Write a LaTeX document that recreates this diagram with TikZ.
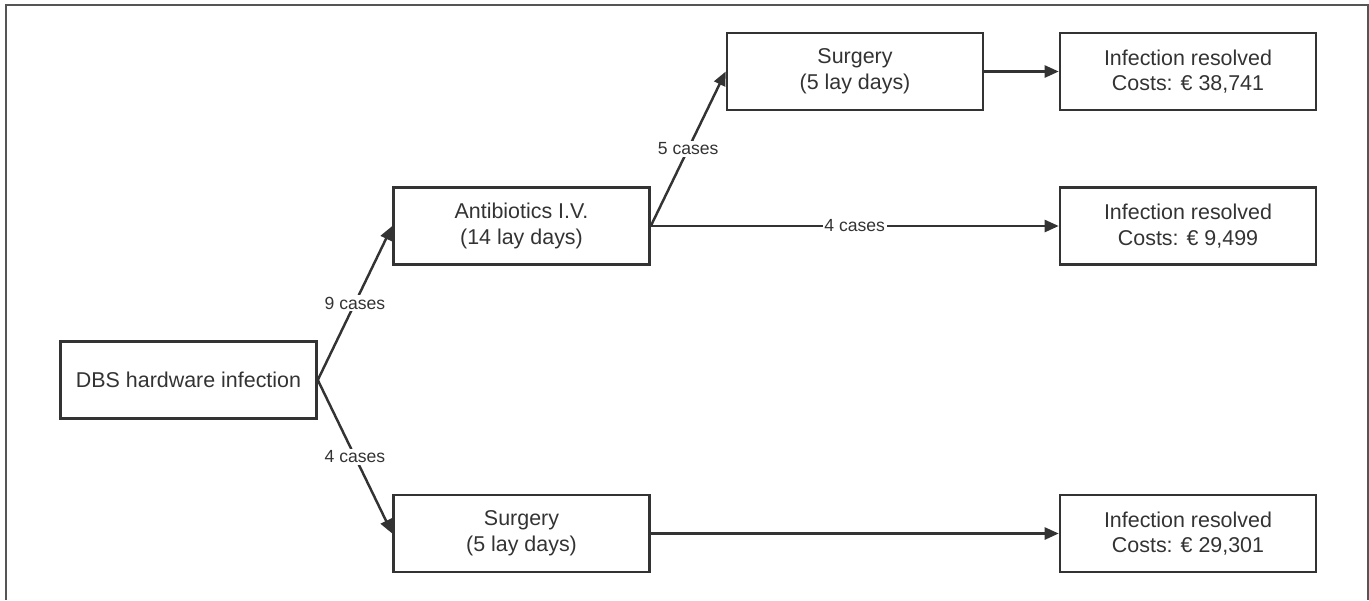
\documentclass[tikz,border=0pt]{standalone}
\usepackage{fontspec}
\setmainfont{Liberation Sans}
\usetikzlibrary{arrows.meta}
\definecolor{inkgray}{HTML}{333333}
\definecolor{framegray}{HTML}{555555}
\begin{document}
\begin{tikzpicture}[x=0.02cm,y=-0.02cm,
    box/.style={draw=inkgray,line width=1.5pt,minimum width=5.12cm,minimum height=1.54cm,
      align=center,text=inkgray,inner sep=0pt,font=\fontsize{12.2}{14.6}\selectfont},
    flow/.style={inkgray,line width=1.4pt,-{Triangle[length=0.28cm,width=0.24cm]}},
    cases/.style={fill=white,text=inkgray,inner sep=1pt,font=\fontsize{10}{12}\selectfont}]
  \useasboundingbox (0,0) rectangle (1369,600);
  \draw[framegray,line width=1pt] (6,600) -- (6,5) -- (1368,5) -- (1368,600);
  \draw
    (188.5,380) node[box] (dbs){DBS hardware infection}
    (521.5,226) node[box] (abx){Antibiotics I.V.\\(14 lay days)}
    (521.5,533.5) node[box] (surg){Surgery\\(5 lay days)}
    (855,71.5) node[box] (surgb){Surgery\\(5 lay days)}
    (1188,71.5) node[box] (res1){Infection resolved\\Costs: € 38,741}
    (1188,226) node[box] (res2){Infection resolved\\Costs: € 9,499}
    (1188,533.5) node[box] (res3){Infection resolved\\Costs: € 29,301};
  \begin{scope}[flow]
    \draw (dbs.east) to node[cases]{9 cases} (abx.west);
    \draw (dbs.east) to node[cases]{4 cases} (surg.west);
    \draw (abx.east) to node[cases]{5 cases} (surgb.west);
    \draw (abx.east) to node[cases]{4 cases} (res2.west);
    \draw (surgb.east) to (res1.west);
    \draw (surg.east) to (res3.west);
  \end{scope}
\end{tikzpicture}
\end{document}
